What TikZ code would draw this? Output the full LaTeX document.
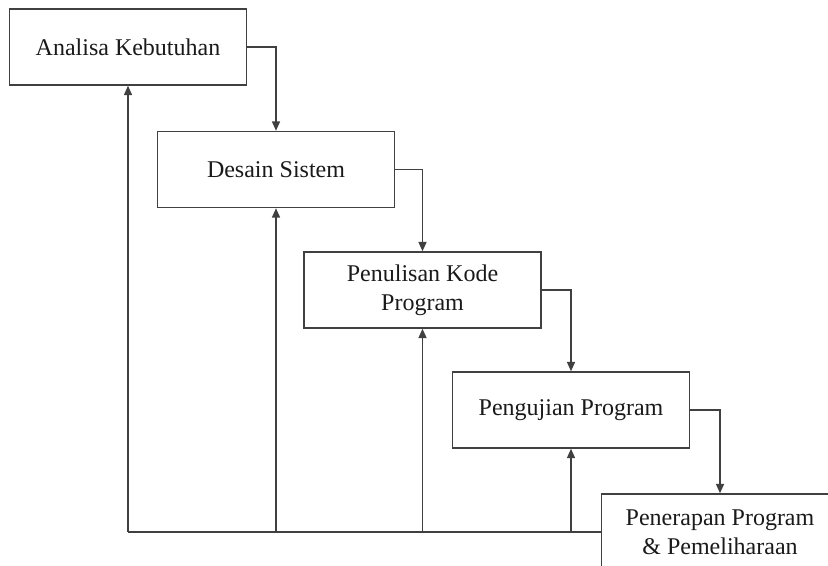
\documentclass[tikz,border=0pt]{standalone}
\usepackage{fontspec}
\setmainfont{Liberation Serif}
\usetikzlibrary{arrows.meta}
\definecolor{WFLine}{HTML}{404040}
\definecolor{WFText}{HTML}{1A1A1A}

\begin{document}
\begin{tikzpicture}[x=0.75pt,y=-0.75pt,
  stage/.style={draw=WFLine,line width=1.1pt,fill=white,minimum width=178pt,minimum height=57pt,
    align=center,text=WFText,font=\fontsize{18}{22}\selectfont,inner sep=0pt},
  flow/.style={draw=WFLine,line width=1.1pt},
  flowarr/.style={flow,-{Triangle[length=7pt,width=6pt]}}]
\path[use as bounding box] (0,0) rectangle (828,566);
\clip (0,0) rectangle (828,566);
\node[stage] (analisa) at (128,47) {Analisa Kebutuhan};
\node[stage] (desain) at (276,169.5) {Desain Sistem};
\node[stage] (kode) at (422.5,290) {Penulisan Kode\\Program};
\node[stage] (uji) at (571,410) {Pengujian Program};
\node[stage] (terap) at (720,532) {Penerapan Program\\\& Pemeliharaan};
\draw[flowarr] (analisa.east) -| (desain.north);
\draw[flowarr] (desain.east) -| (kode.north);
\draw[flowarr] (kode.east) -| (uji.north);
\draw[flowarr] (uji.east) -| (terap.north);
\draw[flow] (terap.west) -- (analisa.south |- terap.west);
\draw[flowarr] (analisa.south |- terap.west) -- (analisa.south);
\draw[flowarr] (desain.south |- terap.west) -- (desain.south);
\draw[flowarr] (kode.south |- terap.west) -- (kode.south);
\draw[flowarr] (uji.south |- terap.west) -- (uji.south);
\end{tikzpicture}
\end{document}
